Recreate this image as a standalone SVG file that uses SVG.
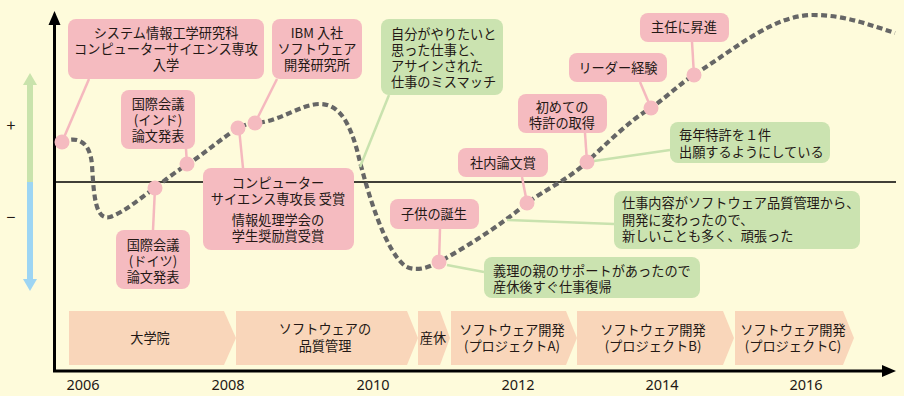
<svg xmlns="http://www.w3.org/2000/svg" width="904" height="396" viewBox="0 0 904 396">
<defs>
<style>
text{font-family:"Noto Sans CJK JP","Noto Sans",sans-serif;font-size:13.2px;fill:#231815}
.c{text-anchor:middle}
.pk{fill:#F5BBC0}
.gr{fill:#CBE3B0}
.chev{fill:#F9D6BA}
.lp{stroke:#F5B8BE;stroke-width:2.5;fill:none}
.lg{stroke:#C9E2AE;stroke-width:2.5;fill:none}
.dot{fill:#F5BBC0}
.yr{font-family:"Noto Sans",sans-serif;font-size:14.5px;text-anchor:middle}
</style>
<marker id="ah" viewBox="0 0 10 10" refX="9" refY="5" markerWidth="4" markerHeight="4" orient="auto"><path d="M0,0 L10,5 L0,10 Z" fill="#000"/></marker>
</defs>
<rect width="904" height="396" fill="#FEFBDB"/>

<!-- side arrows -->
<g id="plus-minus">
<rect x="27" y="84" width="6" height="99" fill="#C9E3AC"/>
<polygon points="23,85 30,73 37,85" fill="#C9E3AC"/>
<rect x="27" y="182" width="6" height="98" fill="#9DD5F3"/>
<polygon points="23,279 30,291 37,279" fill="#9DD5F3"/>
<text x="11" y="131" class="c" style="font-size:16px">+</text>
<text x="11" y="223" class="c" style="font-size:16px">−</text>
</g>

<!-- axes -->
<g id="axes">
<line x1="54" y1="182" x2="896" y2="182" stroke="#000" stroke-width="1.5"/>
<line x1="54.5" y1="372" x2="54.5" y2="22" stroke="#000" stroke-width="3"/>
<polygon points="54.5,11 48.5,25 60.5,25" fill="#000"/>
<line x1="53" y1="371" x2="886" y2="371" stroke="#000" stroke-width="3"/>
<polygon points="896,371 882,365 882,377" fill="#000"/>
<text class="yr" x="83" y="390">2006</text>
<text class="yr" x="228" y="390">2008</text>
<text class="yr" x="373" y="390">2010</text>
<text class="yr" x="518" y="390">2012</text>
<text class="yr" x="662" y="390">2014</text>
<text class="yr" x="806" y="390">2016</text>
</g>

<!-- timeline -->
<g id="timeline">
<g id="t1"><polygon class="chev" points="69,311 224,311 236,338 224,365 69,365"/><text class="c" x="150" y="343">大学院</text></g>
<g id="t2"><polygon class="chev" points="236,311 407,311 418,338 407,365 236,365"/><text class="c" x="325" y="334">ソフトウェアの</text><text class="c" x="325" y="351">品質管理</text></g>
<g id="t3"><polygon class="chev" points="418,311 440,311 450,338 440,365 418,365"/><text class="c" x="433" y="343">産休</text></g>
<g id="t4"><polygon class="chev" points="451,311 566,311 577,338 566,365 451,365"/><text class="c" x="512" y="335">ソフトウェア開発</text><text class="c" x="512" y="351">(プロジェクトA)</text></g>
<g id="t5"><polygon class="chev" points="577,311 723,311 734,338 723,365 577,365"/><text class="c" x="653" y="335">ソフトウェア開発</text><text class="c" x="653" y="351">(プロジェクトB)</text></g>
<g id="t6"><polygon class="chev" points="735,311 843,311 854,338 843,365 735,365"/><text class="c" x="793" y="335">ソフトウェア開発</text><text class="c" x="793" y="351">(プロジェクトC)</text></g>
</g>

<!-- curve -->
<g id="curve">
<path d="M62,142 C76,136 90,140 92,165 C94,200 96,220 110,217 C125,212 140,198 155,188 C165,180 178,170 187,165 C205,153 222,138 238,128 C244,125 250,123 255,123 C280,122 300,104 320,104 C340,104 350,125 357,150 C368,195 385,250 405,266 C415,272 428,268 439,262 C470,245 505,222 527,203 C545,190 570,178 587,162 C605,145 630,120 651,108 C668,96 682,82 694,75 C740,45 775,15 813,15 C845,15 870,25 895,33" fill="none" stroke="#666" stroke-width="4.2" stroke-dasharray="6 3.5"/>
</g>

<!-- connectors -->
<g id="connectors">
<line class="lp" x1="89" y1="79" x2="62" y2="142"/>
<line class="lp" x1="277" y1="79" x2="255" y2="123"/>
<line class="lp" x1="186" y1="149" x2="187" y2="164"/>
<line class="lp" x1="239" y1="128" x2="243" y2="168"/>
<line class="lp" x1="155" y1="188" x2="153" y2="230"/>
<line class="lg" x1="389" y1="95" x2="360" y2="167"/>
<line class="lp" x1="692" y1="42" x2="694" y2="75"/>
<line class="lp" x1="640" y1="82" x2="651" y2="108"/>
<line class="lp" x1="585" y1="133" x2="587" y2="162"/>
<line class="lg" x1="587" y1="162" x2="670" y2="150"/>
<line class="lp" x1="522" y1="177" x2="527" y2="203"/>
<line class="lg" x1="507" y1="220" x2="614" y2="224"/>
<line class="lp" x1="440" y1="229" x2="439" y2="262"/>
<line class="lg" x1="447" y1="265" x2="484" y2="272"/>
</g>

<!-- points -->
<g id="points">
<circle class="dot" cx="62" cy="142" r="7.5"/>
<circle class="dot" cx="155" cy="188" r="7.5"/>
<circle class="dot" cx="187" cy="164" r="7.5"/>
<circle class="dot" cx="238" cy="128" r="7.5"/>
<circle class="dot" cx="255" cy="123" r="7.5"/>
<circle class="dot" cx="439" cy="262" r="7.5"/>
<circle class="dot" cx="527" cy="203" r="7.5"/>
<circle class="dot" cx="587" cy="162" r="7.5"/>
<circle class="dot" cx="651" cy="108" r="7.5"/>
<circle class="dot" cx="694" cy="75" r="7.5"/>
</g>

<!-- nodes -->
<g id="n-nyugaku"><rect class="pk" x="68" y="19" width="196" height="60" rx="8"/>
<text class="c" x="166" y="38">システム情報工学研究科</text><text class="c" x="166" y="54">コンピューターサイエンス専攻</text><text class="c" x="166" y="70">入学</text></g>

<g id="n-ibm"><rect class="pk" x="272" y="19" width="90" height="60" rx="8"/>
<text class="c" x="317" y="38">IBM 入社</text><text class="c" x="317" y="54">ソフトウェア</text><text class="c" x="317" y="70">開発研究所</text></g>

<g id="n-india"><rect class="pk" x="121" y="90" width="74" height="59" rx="8"/>
<text class="c" x="158" y="109">国際会議</text><text class="c" x="158" y="125">(インド)</text><text class="c" x="158" y="141">論文発表</text></g>

<g id="n-germany"><rect class="pk" x="116" y="230" width="74" height="59" rx="8"/>
<text class="c" x="153" y="250">国際会議</text><text class="c" x="153" y="266">(ドイツ)</text><text class="c" x="153" y="282">論文発表</text></g>

<g id="n-award"><rect class="pk" x="203" y="168" width="151" height="82" rx="8"/>
<text class="c" x="278" y="188">コンピューター</text><text class="c" x="278" y="204">サイエンス専攻長 受賞</text><text class="c" x="278" y="225">情報処理学会の</text><text class="c" x="278" y="241">学生奨励賞受賞</text></g>

<g id="n-mismatch"><rect class="gr" x="381" y="19" width="122" height="76" rx="8"/>
<text x="391" y="39">自分がやりたいと</text><text x="391" y="55">思った仕事と、</text><text x="391" y="71">アサインされた</text><text x="391" y="87">仕事のミスマッチ</text></g>

<g id="n-child"><rect class="pk" x="390" y="199" width="89" height="30" rx="8"/>
<text class="c" x="434" y="219">子供の誕生</text></g>

<g id="n-support"><rect class="gr" x="484" y="257" width="216" height="41" rx="8"/>
<text x="493" y="276">義理の親のサポートがあったので</text><text x="493" y="292">産休後すぐ仕事復帰</text></g>

<g id="n-paper"><rect class="pk" x="458" y="148" width="90" height="29" rx="8"/>
<text class="c" x="503" y="168">社内論文賞</text></g>

<g id="n-dev"><rect class="gr" x="614" y="191" width="246" height="58" rx="8"/>
<text x="622" y="208">仕事内容がソフトウェア品質管理から、</text><text x="622" y="225">開発に変わったので、</text><text x="622" y="241">新しいことも多く、頑張った</text></g>

<g id="n-patent"><rect class="pk" x="518" y="94" width="89" height="39" rx="8"/>
<text class="c" x="562" y="112">初めての</text><text class="c" x="562" y="128">特許の取得</text></g>

<g id="n-yearly"><rect class="gr" x="670" y="122" width="160" height="41" rx="8"/>
<text x="679" y="140">毎年特許を１件</text><text x="679" y="157">出願するようにしている</text></g>

<g id="n-leader"><rect class="pk" x="569" y="53" width="98" height="29" rx="8"/>
<text class="c" x="618" y="73">リーダー経験</text></g>

<g id="n-promote"><rect class="pk" x="640" y="13" width="89" height="29" rx="8"/>
<text class="c" x="684" y="32">主任に昇進</text></g>
</svg>
